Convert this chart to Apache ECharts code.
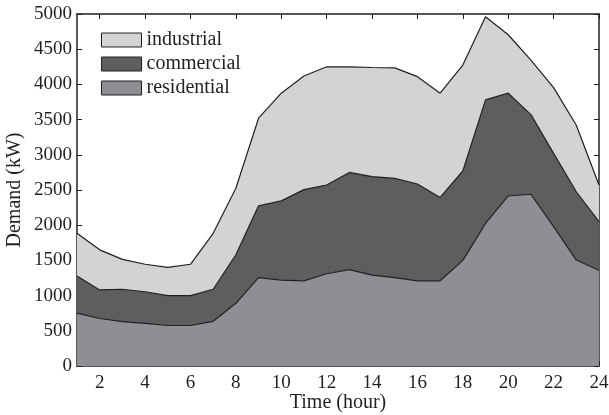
<!DOCTYPE html>
<html>
<head>
<meta charset="utf-8">
<script src="https://cdn.jsdelivr.net/npm/echarts@6/dist/echarts.min.js"></script>
<style>
  html, body { margin: 0; padding: 0; background: #ffffff; }
  #chart { width: 609px; height: 415px; }
</style>
</head>
<body>
<div id="chart"></div>
<script>
// Hourly electricity demand (kW) by sector, stacked
const hours = [1, 2, 3, 4, 5, 6, 7, 8, 9, 10, 11, 12, 13, 14, 15, 16, 17, 18, 19, 20, 21, 22, 23, 24];
const residential = [750, 675, 630, 605, 575, 575, 635, 890, 1255, 1220, 1210, 1310, 1370, 1290, 1255, 1210, 1210, 1500, 2025, 2415, 2440, 1980, 1505, 1360];
const commercial  = [530, 405, 460, 450, 425, 425, 455, 690, 1020, 1125, 1295, 1260, 1380, 1400, 1410, 1375, 1185, 1270, 1755, 1460, 1130, 1040, 970, 690];
const industrial  = [605, 570, 425, 390, 400, 445, 795, 945, 1245, 1530, 1615, 1680, 1500, 1550, 1570, 1525, 1480, 1505, 1180, 830, 775, 935, 945, 520];

const fills = { residential: '#8e8f92', commercial: '#5e5e60', industrial: '#d2d3d5' };
const ink = '#231f20';
const serif = '"Liberation Serif", "DejaVu Serif", serif';

const chart = echarts.init(document.getElementById('chart'), null, { renderer: 'canvas' });

const evenHour = (idx, val) => Number(val) % 2 === 0;

const makeSeries = (name, values) => ({
  name: name,
  type: 'line',
  stack: 'demand',
  data: values,
  symbol: 'none',
  smooth: false,
  lineStyle: { color: ink, width: 1.2 },
  itemStyle: { color: fills[name] },
  areaStyle: { color: fills[name], opacity: 1 },
  emphasis: { disabled: true },
  z: 2
});

chart.setOption({
  animation: false,
  backgroundColor: '#ffffff',
  grid: { left: 77, right: 10, top: 14, bottom: 49, containLabel: false, outerBoundsMode: 'none' },
  legend: {
    orient: 'vertical',
    left: 101,
    top: 30,
    padding: 0,
    itemWidth: 40,
    itemHeight: 14,
    itemGap: 4,
    icon: 'rect',
    selectedMode: false,
    textStyle: { fontFamily: serif, fontSize: 20, color: ink },
    data: ['industrial', 'commercial', 'residential'].map(n => ({
      name: n,
      itemStyle: { color: fills[n], borderColor: ink, borderWidth: 1 }
    }))
  },
  xAxis: [
    {
      type: 'category',
      data: hours.map(String),
      boundaryGap: false,
      position: 'bottom',
      name: 'Time (hour)',
      nameLocation: 'middle',
      nameGap: 27,
      nameMoveOverlap: false,
      nameTextStyle: { fontFamily: serif, fontSize: 20, color: ink },
      axisLine: { show: true, onZero: false, lineStyle: { color: ink, width: 1.5 } },
      axisTick: { show: true, inside: true, length: 5, interval: evenHour, alignWithLabel: true, lineStyle: { color: ink, width: 1 } },
      axisLabel: { interval: evenHour, margin: 8, fontFamily: serif, fontSize: 19, color: ink },
      splitLine: { show: false }
    },
    {
      type: 'category',
      data: hours.map(String),
      boundaryGap: false,
      position: 'top',
      axisLine: { show: true, onZero: false, lineStyle: { color: ink, width: 1.5 } },
      axisTick: { show: true, inside: true, length: 5, interval: evenHour, alignWithLabel: true, lineStyle: { color: ink, width: 1 } },
      axisLabel: { show: false },
      splitLine: { show: false }
    }
  ],
  yAxis: [
    {
      type: 'value',
      min: 0,
      max: 5000,
      interval: 500,
      position: 'left',
      name: 'Demand (kW)',
      nameLocation: 'middle',
      nameGap: 52,
      nameMoveOverlap: false,
      nameTextStyle: { fontFamily: serif, fontSize: 20, color: ink },
      axisLine: { show: true, lineStyle: { color: ink, width: 1.5 } },
      axisTick: { show: true, inside: true, length: 5, lineStyle: { color: ink, width: 1 } },
      axisLabel: { margin: 5, fontFamily: serif, fontSize: 19, color: ink, formatter: v => String(v) },
      splitLine: { show: false }
    },
    {
      type: 'value',
      min: 0,
      max: 5000,
      interval: 500,
      position: 'right',
      axisLine: { show: true, lineStyle: { color: ink, width: 1.5 } },
      axisTick: { show: true, inside: true, length: 5, lineStyle: { color: ink, width: 1 } },
      axisLabel: { show: false },
      splitLine: { show: false }
    }
  ],
  series: [
    makeSeries('residential', residential),
    makeSeries('commercial', commercial),
    makeSeries('industrial', industrial)
  ]
});
</script>
</body>
</html>
